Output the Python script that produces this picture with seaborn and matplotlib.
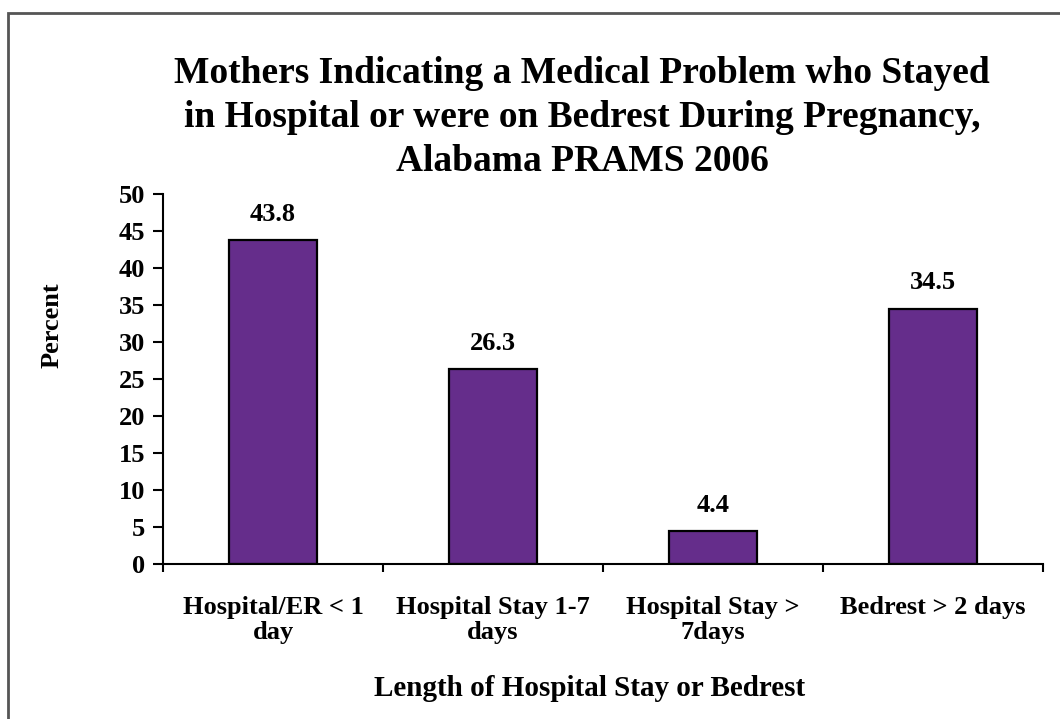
import numpy as np
import pandas as pd
import seaborn as sns
import matplotlib.pyplot as plt
from matplotlib.patches import Rectangle

# chart data
categories = ["Hospital/ER < 1\nday", "Hospital Stay 1-7\ndays", "Hospital Stay >\n7days", "Bedrest > 2 days"]
percent = [43.8, 26.3, 4.4, 34.5]
y_ticks = [0, 5, 10, 15, 20, 25, 30, 35, 40, 45, 50]

df = pd.DataFrame({"category": categories, "percent": percent})

sns.set_style("white")
plt.rcParams['font.family'] = ['Liberation Serif', 'DejaVu Serif']
plt.rcParams['font.weight'] = 'bold'
plt.rcParams['text.color'] = 'black'
plt.rcParams['axes.labelcolor'] = 'black'

fig = plt.figure(figsize=(10.6, 7.19), dpi=100)
ax = fig.add_axes([0.1538, 0.2156, 0.8302, 0.5146])

sns.barplot(data=df, x="category", y="percent", color="#652D8B", saturation=1,
            width=0.4, edgecolor="black", linewidth=1.6, ax=ax)

# value labels above bars
for i, v in enumerate(percent):
    ax.text(i, v + 2.6, f"{v}", ha="center", va="baseline", fontsize=19, fontweight="bold")

ax.set_ylim(0, 50)
ax.set_xlim(-0.5, len(categories) - 0.5)
ax.set_yticks(y_ticks)
ax.set_yticklabels([str(t) for t in y_ticks], fontsize=19, fontweight="bold")

# category labels without tick marks, ticks between categories
ax.set_xticks(range(len(categories)))
ax.set_xticklabels(categories, fontsize=19, fontweight="bold", linespacing=1.1)
ax.set_xticks(np.arange(-0.5, len(categories), 1.0), minor=True)
ax.tick_params(axis="x", which="major", bottom=True, length=0, pad=23)
ax.tick_params(axis="x", which="minor", bottom=True, length=6, width=1.5, direction="out", color="black")
ax.tick_params(axis="y", left=True, length=7, width=1.5, direction="out", color="black", pad=6)
ax.tick_params(axis="both", labelcolor="black")

for side in ["top", "right"]:
    ax.spines[side].set_visible(False)
for side in ["left", "bottom"]:
    ax.spines[side].set_color("black")
    ax.spines[side].set_linewidth(1.5)

ax.set_xlabel("Length of Hospital Stay or Bedrest", fontsize=21, fontweight="bold")
ax.xaxis.set_label_coords(0.485, -0.3)
ax.xaxis.label.set(ha="center", va="top")
ax.set_ylabel("Percent", fontsize=19, fontweight="bold")
ax.yaxis.set_label_coords(-0.126, 0.646)
ax.yaxis.label.set(ha="center", va="center")

fig.text(0.549, 0.922,
         "Mothers Indicating a Medical Problem who Stayed\nin Hospital or were on Bedrest During Pregnancy,\nAlabama PRAMS 2006",
         ha="center", va="top", fontsize=27, fontweight="bold", linespacing=1.34)

# outer frame
fig.patches.append(Rectangle((8 / 1060, -0.1), 1.1, 1.1 - 13 / 719, transform=fig.transFigure,
                             fill=False, edgecolor="#555555", linewidth=2))

fig.savefig("out.png", dpi=100)
